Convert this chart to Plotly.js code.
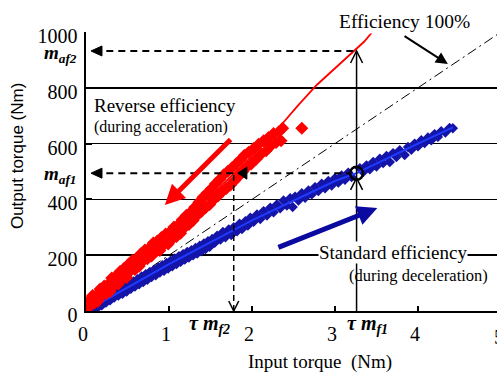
<!DOCTYPE html>
<html><head><meta charset="utf-8">
<script src="https://cdn.plot.ly/plotly-3.0.1.min.js"></script>
<style>html,body{margin:0;padding:0;background:#fff}#chart{width:497px;height:374px}</style>
</head><body><div id="chart"></div>
<script>
// Reverse efficiency (during acceleration) measured points
const redX = [0.02,0.04,0.06,0.08,0.10,0.12,0.14,0.17,0.19,0.22,0.24,0.27,0.29,0.31,0.34,0.36,0.39,0.41,0.44,0.46,0.49,0.51,0.54,0.56,0.59,0.61,0.64,0.66,0.69,0.71,0.74,0.76,0.79,0.81,0.84,0.86,0.89,0.91,0.94,0.96,0.99,1.01,1.04,1.06,1.09,1.11,1.14,1.16,1.19,1.21,1.24,1.26,1.29,1.31,1.34,1.36,1.39,1.41,1.44,1.46,1.49,1.51,1.54,1.56,1.59,1.61,1.64,1.66,1.69,1.71,1.74,1.76,1.79,1.81,1.84,1.86,1.89,1.91,1.94,1.96,1.99,2.02,2.05,2.08,2.11,2.14,2.17,2.20,2.23,2.26,2.29,2.32,2.35,2.37,2.60];
const redY = [15,40,21,56,29,56,34,79,55,90,62,97,70,118,91,125,97,142,115,153,120,167,145,182,149,187,160,205,180,219,187,225,197,244,213,251,217,263,238,276,240,283,258,301,267,308,279,327,300,343,310,354,324,372,343,390,357,408,370,423,382,438,400,456,412,471,427,488,439,501,452,513,467,528,483,542,500,558,517,569,527,582,544,598,563,610,574,622,593,636,604,642,610,655,655];
// Reverse efficiency fitted line
const redLineX = [0,0.5,1.0,1.5,2.0,2.37,2.55,2.78,2.92,3.06,3.15,3.24,3.35,3.45];
const redLineY = [15,145,268,410,555,673,735,810,848,889,910,935,965,1000];
// Standard efficiency (during deceleration) measured points
const blueX = [0.04,0.07,0.09,0.12,0.14,0.17,0.19,0.22,0.24,0.27,0.29,0.32,0.34,0.37,0.39,0.42,0.44,0.47,0.49,0.52,0.54,0.57,0.59,0.62,0.64,0.67,0.69,0.72,0.74,0.77,0.79,0.82,0.84,0.87,0.89,0.92,0.94,0.97,0.99,1.02,1.04,1.07,1.09,1.12,1.14,1.17,1.19,1.22,1.24,1.27,1.29,1.32,1.34,1.37,1.39,1.42,1.44,1.47,1.49,1.52,1.55,1.58,1.62,1.65,1.68,1.72,1.75,1.78,1.82,1.85,1.88,1.92,1.95,1.98,2.02,2.06,2.10,2.14,2.18,2.22,2.26,2.30,2.34,2.38,2.42,2.46,2.49,2.52,2.56,2.60,2.64,2.68,2.72,2.76,2.80,2.84,2.88,2.92,2.96,3.00,3.04,3.08,3.12,3.16,3.20,3.30,3.34,3.38,3.42,3.46,3.50,3.54,3.58,3.62,3.66,3.70,3.74,3.78,3.84,3.88,3.92,3.96,4.00,4.04,4.08,4.12,4.16,4.20,4.24,4.28,4.33,4.38,4.42];
const blueY = [2,18,6,28,12,36,20,46,30,55,38,64,48,72,55,82,62,90,70,98,80,106,88,114,96,124,104,132,112,140,122,148,128,156,138,164,144,172,152,180,160,188,168,196,176,204,184,212,192,218,200,226,206,234,214,242,222,250,230,258,244,270,256,283,264,292,272,300,286,313,294,322,306,334,320,346,330,358,342,370,354,382,368,396,378,404,373,410,396,422,406,432,418,444,430,456,440,466,450,476,460,486,470,496,480,512,498,522,508,534,518,546,530,556,534,566,552,576,559,588,578,600,590,612,602,622,612,634,624,644,640,656,655];
// Standard efficiency fitted line
const blueLineX = [-0.05,0,1,2,3,3.26,4,4.42];
const blueLineY = [-10,0,168,325,466,494,600,658];
// Efficiency 100% reference line
const effX = [0,5];
const effY = [0,1000];
// marked operating points
const tauMf1 = 3.26, tauMf2 = 1.78;
const mAf1 = 494, mAf2 = 932;
const xTicks = [0,1,2,3,4];
const yTicks = [0,200,400,600,800,1000];

const serif = '"Liberation Serif", "Times New Roman", serif';
const sans = '"Liberation Sans", Arial, sans-serif';
const black = '#000';

const traces = [
  {x:effX,y:effY,mode:'lines',line:{color:black,width:1,dash:'10px,4px,2px,4px'},hoverinfo:'skip'},
  {x:blueX,y:blueY,mode:'markers',marker:{symbol:'diamond',size:8,color:'#1414a8'}},
  {x:blueLineX,y:blueLineY,mode:'lines',line:{color:'#1e3cff',width:2}},
  {x:redX,y:redY,mode:'markers',marker:{symbol:'diamond',size:10,color:'#ff0000'}},
  {x:redLineX,y:redLineY,mode:'lines',line:{color:'#ff0000',width:1.8}},
  {x:[tauMf1],y:[mAf1],mode:'markers',marker:{symbol:'circle-open',size:13,color:black,line:{width:2.5,color:black}}}
];

function pxShape(xa, ya, path, fill){
  return {type:'path',xref:'x',yref:'y',xsizemode:'pixel',ysizemode:'pixel',xanchor:xa,yanchor:ya,
    path:path,line:{color:black,width:fill?1:1.5},fillcolor:fill?black:'rgba(0,0,0,0)',layer:'above'};
}

const shapes = [
  {type:'line',xref:'x',yref:'y',x0:0.1,x1:tauMf1,y0:mAf2,y1:mAf2,line:{color:black,width:2,dash:'7px,5px'},layer:'above'},
  {type:'line',xref:'x',yref:'y',x0:0.1,x1:tauMf1-0.09,y0:mAf1,y1:mAf1,line:{color:black,width:2,dash:'7px,5px'},layer:'above'},
  {type:'line',xref:'x',yref:'y',x0:tauMf2,x1:tauMf2,y0:0,y1:mAf1,line:{color:black,width:1.5,dash:'6px,4px'},layer:'above'},
  {type:'line',xref:'x',yref:'y',x0:tauMf1,x1:tauMf1,y0:0,y1:mAf2,line:{color:black,width:1.5},layer:'above'},
  pxShape(0.06,mAf2,'M0,0 L11,5 L11,-5 Z',true),
  pxShape(0.06,mAf1,'M0,0 L11,5 L11,-5 Z',true),
  pxShape(tauMf2+0.05,mAf1,'M0,0 L9,6 L9,-6 Z',true),
  pxShape(tauMf2,0,'M-5,10 L0,0 L5,10',false),
  pxShape(tauMf1,mAf2,'M-6,-12 L0,0 L6,-12',false),
  pxShape(tauMf1,mAf1-17,'M-6,-12 L0,0 L6,-12',false)
];

const annotations = [
  {xref:'x',yref:'y',x:0.95,y:380,axref:'x',ayref:'y',ax:1.76,ay:620,text:'',showarrow:true,arrowhead:2,arrowsize:0.8,arrowwidth:5,arrowcolor:'#ff0000'},
  {xref:'x',yref:'y',x:3.51,y:369,axref:'x',ayref:'y',ax:2.30,ay:226,text:'',showarrow:true,arrowhead:2,arrowsize:0.8,arrowwidth:5,arrowcolor:'#0a0aa0'},
  {xref:'x',yref:'y',x:4.36,y:885,axref:'x',ayref:'y',ax:3.82,ay:989,text:'',showarrow:true,arrowhead:2,arrowsize:1.2,arrowwidth:2,arrowcolor:black},
  {xref:'paper',yref:'paper',x:0.776,y:1.036,xanchor:'center',yanchor:'middle',text:'Efficiency 100%',showarrow:false,bgcolor:'#fff',borderpad:1,font:{family:serif,size:19.5,color:black}},
  {xref:'paper',yref:'y',x:0.0146,y:738,xanchor:'left',yanchor:'middle',text:'Reverse efficiency',showarrow:false,font:{family:serif,size:19,color:black}},
  {xref:'paper',yref:'y',x:0.0146,y:659,xanchor:'left',yanchor:'middle',text:'(during acceleration)',showarrow:false,font:{family:serif,size:16,color:black}},
  {xref:'x',yref:'y',x:2.795,y:208,xanchor:'left',yanchor:'middle',text:'Standard efficiency',showarrow:false,bgcolor:'#fff',borderpad:0,font:{family:serif,size:19,color:black}},
  {xref:'x',yref:'y',x:3.145,y:129,xanchor:'left',yanchor:'middle',text:'(during deceleration)',showarrow:false,font:{family:serif,size:16.5,color:black}},
  {xref:'paper',yref:'y',x:-0.017,y:mAf2,xanchor:'right',yanchor:'middle',yshift:-3,text:'<b><i>m</i></b><sub><b><i>af2</i></b></sub>',showarrow:false,font:{family:serif,size:19,color:black}},
  {xref:'paper',yref:'y',x:-0.017,y:mAf1,xanchor:'right',yanchor:'middle',yshift:-2,text:'<b><i>m</i></b><sub><b><i>af1</i></b></sub>',showarrow:false,font:{family:serif,size:19,color:black}},
  {xref:'x',yref:'paper',x:tauMf2,y:-0.05,xanchor:'right',yanchor:'middle',xshift:-2,text:'<b><i>τ m</i></b><sub><b><i>f2</i></b></sub>',showarrow:false,font:{family:serif,size:20,color:black}},
  {xref:'x',yref:'paper',x:tauMf1,y:-0.05,xanchor:'left',yanchor:'middle',xshift:-12,text:'<b><i>τ m</i></b><sub><b><i>f1</i></b></sub>',showarrow:false,font:{family:serif,size:20,color:black}},
  {xref:'paper',yref:'paper',x:1.005,y:-0.093,xanchor:'center',yanchor:'middle',text:'5',showarrow:false,font:{family:serif,size:20,color:black}},
  {xref:'paper',yref:'paper',x:0.569,y:-0.183,xanchor:'center',yanchor:'middle',text:'Input torque\u00a0\u00a0(Nm)',showarrow:false,font:{family:serif,size:19,color:black}},
  {xref:'paper',yref:'paper',x:-0.165,y:0.556,xanchor:'center',yanchor:'middle',textangle:-90,text:'Output torque (Nm)',showarrow:false,font:{family:sans,size:17,color:black}}
];

const layout = {
  width:497,height:374,
  margin:{l:86,r:0,t:32,b:63,pad:0},
  paper_bgcolor:'#fff',plot_bgcolor:'#fff',
  showlegend:false,
  xaxis:{range:[0,4.952],tickmode:'array',tickvals:xTicks,ticktext:xTicks.map(String),showgrid:false,zeroline:false,
    showline:true,linecolor:black,linewidth:2,ticks:'inside',ticklen:5,tickwidth:1.5,tickcolor:black,
    tickfont:{family:serif,size:20,color:black},ticklabelstandoff:4,ticklabelshift:-3},
  yaxis:{range:[0,1000],tickmode:'array',tickvals:yTicks,ticktext:yTicks.map(String),showgrid:true,gridcolor:black,gridwidth:1.5,zeroline:false,
    showline:true,linecolor:black,linewidth:2.5,ticks:'inside',ticklen:6,tickwidth:2,tickcolor:black,
    tickfont:{family:serif,size:20,color:black},ticklabelshift:4,ticklabelstandoff:2},
  shapes:shapes,
  annotations:annotations
};

Plotly.newPlot('chart',traces,layout,{staticPlot:true,displayModeBar:false});
</script>
</body></html>
